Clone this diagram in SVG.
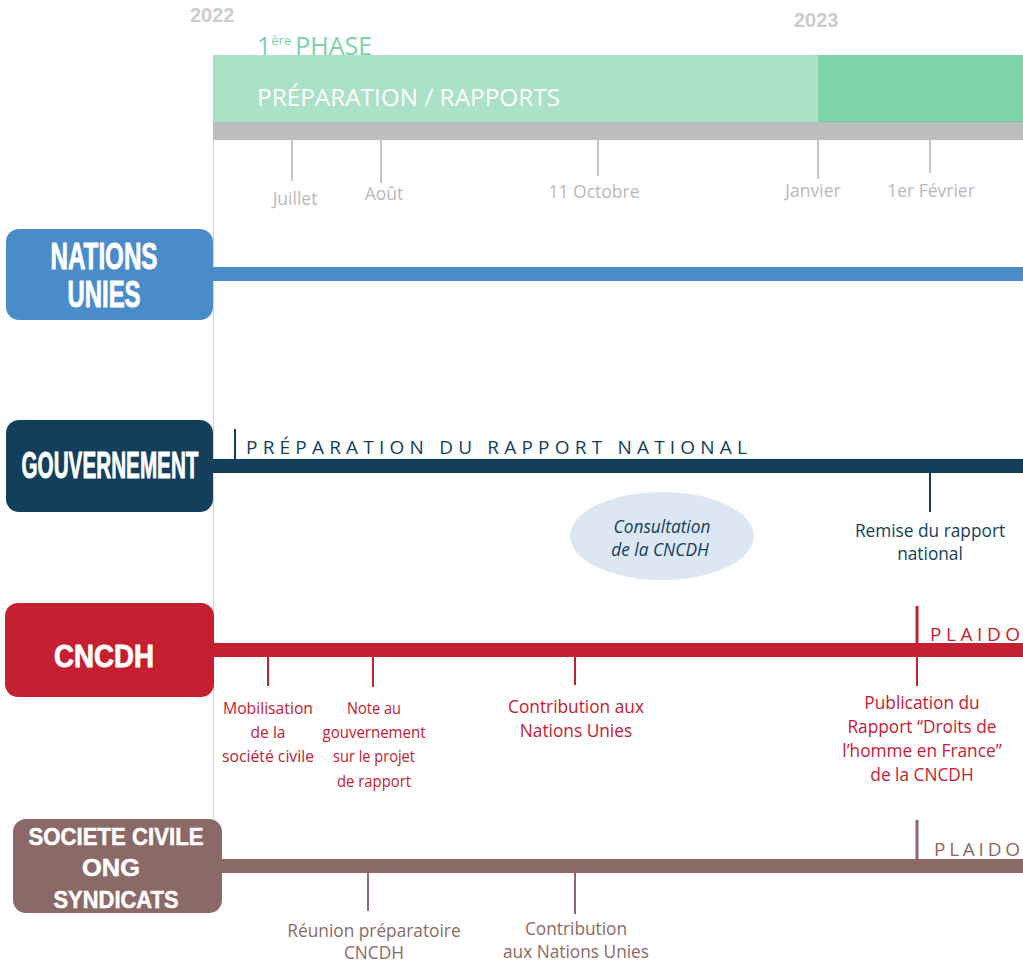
<svg xmlns="http://www.w3.org/2000/svg" width="1023" height="963" viewBox="0 0 1023 963">
<style>
.year{font-family:"Liberation Sans",Arial,sans-serif;font-weight:bold;font-size:20px;fill:#cdcdcd}
.month{font-family:"Open Sans","Noto Sans",sans-serif;font-size:17.5px;fill:#b9b9b9;text-anchor:middle}
.title{font-family:"Liberation Sans",Arial,sans-serif;font-weight:bold;fill:#fff;stroke:#fff;stroke-width:0.9;text-anchor:middle}
.small{stroke-width:0.5}
.lbl{font-family:"Open Sans","Noto Sans",sans-serif;font-size:17.3px;text-anchor:middle}
.cond{font-size:17px}
.spaced{font-family:"Open Sans","Noto Sans",sans-serif;font-size:19px}
.navy{fill:#133f5c}.red{fill:#c42032}.brown{fill:#8b6966}
.tick{stroke-width:2;fill:none}
</style>
<rect width="1023" height="963" fill="#fff"/>
<g id="header">
<text class="year" x="190" y="22">2022</text>
<text class="year" x="794" y="27">2023</text>
<text x="257" y="55" font-family="Open Sans, Noto Sans, sans-serif" font-size="25" fill="#7dd3a8">1<tspan font-size="13" dy="-10">ère</tspan><tspan dy="10" dx="4">PHASE</tspan></text>
<rect x="213" y="55" width="605" height="67" fill="#abe1c6"/>
<rect x="818" y="55" width="205" height="67" fill="#7ed3a9"/>
<line x1="818" y1="122" x2="1023" y2="122" stroke="#5fc08f" stroke-width="1"/>
<text x="257" y="106" font-family="Open Sans, Noto Sans, sans-serif" font-size="24" fill="#fff" textLength="303" lengthAdjust="spacingAndGlyphs">PRÉPARATION / RAPPORTS</text>
<rect x="213" y="122" width="810" height="18" fill="#bcbdbf"/>
<line x1="213.5" y1="138" x2="213.5" y2="819" stroke="#d4d4d4" stroke-width="1"/>
<g stroke="#c4c4c4" stroke-width="2">
<line x1="292" y1="140" x2="292" y2="181"/>
<line x1="381" y1="140" x2="381" y2="183"/>
<line x1="598" y1="140" x2="598" y2="176"/>
<line x1="818" y1="140" x2="818" y2="179"/>
<line x1="930" y1="140" x2="930" y2="173"/>
</g>
<text class="month" x="295" y="205">Juillet</text>
<text class="month" x="384" y="200">Août</text>
<text class="month" x="594" y="198">11 Octobre</text>
<text class="month" x="813" y="197">Janvier</text>
<text class="month" x="931" y="197">1er Février</text>
</g>
<g id="connectors">
<rect x="213" y="267" width="810" height="14" fill="#4a8bca"/>
<rect x="213" y="459" width="810" height="14" fill="#133f5c"/>
<rect x="214" y="643" width="809" height="14" fill="#c42032"/>
<rect x="222" y="859" width="801" height="14" fill="#8b6966"/>
<line class="tick" x1="235" y1="429" x2="235" y2="459" stroke="#133f5c" stroke-width="3"/>
<line class="tick" x1="930" y1="473" x2="930" y2="512" stroke="#133f5c"/>
<g stroke="#c42032" class="tick">
<line x1="268" y1="657" x2="268" y2="686"/>
<line x1="373" y1="657" x2="373" y2="687"/>
<line x1="575" y1="657" x2="575" y2="685"/>
<line x1="917" y1="657" x2="917" y2="686"/>
<line x1="917" y1="606" x2="917" y2="643" stroke-width="3"/>
</g>
<g stroke="#8b6966" class="tick">
<line x1="368" y1="873" x2="368" y2="911"/>
<line x1="575" y1="873" x2="575" y2="914"/>
<line x1="917" y1="820" x2="917" y2="859" stroke-width="3"/>
</g>
</g>
<g id="nations-unies">
<rect x="6" y="229" width="207" height="91" rx="13" fill="#4a8bca"/>
<text class="title" x="104" y="269" font-size="36" textLength="107" lengthAdjust="spacingAndGlyphs">NATIONS</text>
<text class="title" x="104" y="307" font-size="36" textLength="73" lengthAdjust="spacingAndGlyphs">UNIES</text>
</g>
<g id="gouvernement">
<rect x="6" y="420" width="207" height="92" rx="13" fill="#133f5c"/>
<text class="title" x="110" y="478" font-size="36" textLength="177" lengthAdjust="spacingAndGlyphs">GOUVERNEMENT</text>
<text class="spaced navy" x="246" y="454" textLength="501" lengthAdjust="spacing">PRÉPARATION DU RAPPORT NATIONAL</text>
<ellipse cx="662" cy="536" rx="92" ry="44" fill="#dce7f3"/>
<text class="lbl navy" x="662" y="533" font-style="italic" font-size="18.5">Consultation</text>
<text class="lbl navy" x="660" y="556" font-style="italic" font-size="18.5">de la CNCDH</text>
<text class="lbl navy" x="930" y="537" font-size="17.5">Remise du rapport</text>
<text class="lbl navy" x="930" y="560" font-size="17.5">national</text>
</g>
<g id="cncdh">
<rect x="5" y="603" width="209" height="94" rx="13" fill="#c42032"/>
<text class="title" x="104" y="667" font-size="32" textLength="100" lengthAdjust="spacingAndGlyphs">CNCDH</text>
<text class="spaced red" x="930" y="641" font-size="17" textLength="90" lengthAdjust="spacing">PLAIDO</text>
<text class="lbl red cond" x="268" y="714" textLength="90" lengthAdjust="spacingAndGlyphs">Mobilisation</text>
<text class="lbl red cond" x="268" y="738" textLength="35" lengthAdjust="spacingAndGlyphs">de la</text>
<text class="lbl red cond" x="268" y="762" textLength="92" lengthAdjust="spacingAndGlyphs">société civile</text>
<text class="lbl red cond" x="374" y="714" textLength="54" lengthAdjust="spacingAndGlyphs">Note au</text>
<text class="lbl red cond" x="374" y="738" textLength="103" lengthAdjust="spacingAndGlyphs">gouvernement</text>
<text class="lbl red cond" x="374" y="762" textLength="82" lengthAdjust="spacingAndGlyphs">sur le projet</text>
<text class="lbl red cond" x="374" y="787" textLength="74" lengthAdjust="spacingAndGlyphs">de rapport</text>
<text class="lbl red" x="576" y="713" font-size="18">Contribution aux</text>
<text class="lbl red" x="576" y="737" font-size="18">Nations Unies</text>
<text class="lbl red" x="922" y="709" font-size="17.5">Publication du</text>
<text class="lbl red" x="922" y="733" font-size="17.5">Rapport “Droits de</text>
<text class="lbl red" x="922" y="757" font-size="17.5">l’homme en France”</text>
<text class="lbl red" x="922" y="781" font-size="17.5">de la CNCDH</text>
</g>
<g id="societe-civile">
<rect x="13" y="819" width="209" height="94" rx="13" fill="#8b6966"/>
<text class="title small" x="116" y="845" font-size="24" textLength="175" lengthAdjust="spacingAndGlyphs">SOCIETE CIVILE</text>
<text class="title small" x="111" y="876" font-size="24" textLength="58" lengthAdjust="spacingAndGlyphs">ONG</text>
<text class="title small" x="116" y="908" font-size="24" textLength="125" lengthAdjust="spacingAndGlyphs">SYNDICATS</text>
<text class="spaced brown" x="934" y="856" font-size="17" textLength="86" lengthAdjust="spacing">PLAIDO</text>
<text class="lbl brown" x="374" y="937">Réunion préparatoire</text>
<text class="lbl brown" x="374" y="959">CNCDH</text>
<text class="lbl brown" x="576" y="935">Contribution</text>
<text class="lbl brown" x="576" y="958">aux Nations Unies</text>
</g>
</svg>
